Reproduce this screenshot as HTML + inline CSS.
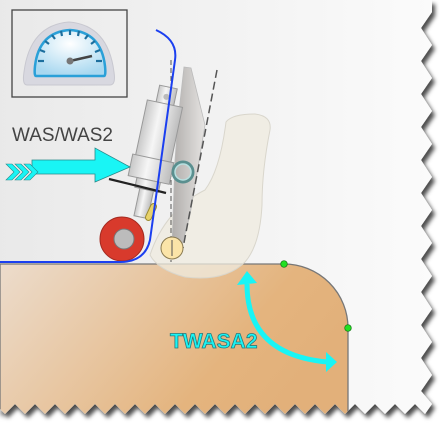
<!DOCTYPE html>
<html><head><style>html,body{margin:0;padding:0;background:#fff}svg{display:block}</style></head>
<body>
<svg id="s" width="440" height="423" viewBox="0 0 440 423" xmlns="http://www.w3.org/2000/svg">
<defs>
<linearGradient id="bg" x1="0" y1="0" x2="1" y2="0"><stop offset="0" stop-color="#e9e9e9"/><stop offset="1" stop-color="#fbfbfb"/></linearGradient>
<linearGradient id="wp" x1="0" y1="0" x2="1" y2="0.4"><stop offset="0" stop-color="#ecdccc"/><stop offset="0.75" stop-color="#e4b47e"/><stop offset="1" stop-color="#e2b07a"/></linearGradient>
<linearGradient id="cyl" x1="0" y1="0" x2="1" y2="0"><stop offset="0" stop-color="#c8c8c8"/><stop offset="0.4" stop-color="#f6f6f6"/><stop offset="1" stop-color="#bdbdbd"/></linearGradient>
<linearGradient id="fin" x1="0" y1="0" x2="1" y2="0"><stop offset="0" stop-color="#b0adab"/><stop offset="1" stop-color="#e6e4e2"/></linearGradient>
<radialGradient id="dial" cx="0.5" cy="0.3" r="0.7"><stop offset="0" stop-color="#ffffff"/><stop offset="1" stop-color="#a8d8f0"/></radialGradient>
<filter id="sh" x="-5%" y="-5%" width="115%" height="115%"><feDropShadow dx="3" dy="4" stdDeviation="2" flood-color="#000" flood-opacity="0.7"/></filter>
<clipPath id="pc"><polygon id="pcp"/></clipPath>
</defs>
<polygon id="pg" fill="url(#bg)" filter="url(#sh)"/>
<g clip-path="url(#pc)">
<path d="M0,264 L284,264 A64,64 0 0 1 348,328 L348,430 L0,430 Z" fill="url(#wp)" stroke="#777" stroke-width="1.3"/>
<rect x="12" y="10" width="115" height="87" fill="none" stroke="#444" stroke-width="1.3"/>
<path d="M27,85 L110,85 Q116,85 114,72 Q108,25 69,22 Q30,25 24,72 Q22,85 27,85Z" fill="#d8d8e0" stroke="#c8c8d0"/>
<path d="M36,76 L104,76 Q106,76 105,66 Q101,32 70,30 Q39,32 35,66 Q34,76 36,76Z" fill="url(#dial)" stroke="#2aa0d8" stroke-width="2.5"/>
<g stroke="#1d6f9e" stroke-width="2.2">
<line x1="38" y1="61" x2="44" y2="61"/><line x1="40" y1="50" x2="45" y2="52"/><line x1="45" y1="41" x2="49" y2="44"/><line x1="52" y1="35" x2="55" y2="39"/><line x1="61" y1="31" x2="62" y2="36"/><line x1="70" y1="30" x2="70" y2="35"/><line x1="79" y1="31" x2="78" y2="36"/><line x1="88" y1="35" x2="85" y2="39"/><line x1="95" y1="41" x2="91" y2="44"/><line x1="100" y1="50" x2="95" y2="52"/><line x1="102" y1="61" x2="96" y2="61"/>
</g>
<line x1="70" y1="61" x2="92" y2="56" stroke="#444" stroke-width="2.5"/><circle cx="70" cy="61" r="3.5" fill="#777"/>
<path d="M226,122 Q232,114 255,114 Q272,116 270,130 Q262,170 262,205 Q260,245 245,262 Q225,282 185,277 Q158,270 150,255 Q165,210 205,190 Q220,170 226,122Z" fill="#efebdf" fill-opacity="0.75" stroke="#d9d6cc"/>
<path d="M184,67 L191,68 L205,125 L190,215 L182,245 L172,245 L175,160 L178,120Z" fill="url(#fin)" stroke="#bbb" stroke-width="0.8"/>
<line x1="171" y1="60" x2="171" y2="262" stroke="#555" stroke-dasharray="5,3"/>
<line x1="217" y1="70" x2="183" y2="248" stroke="#555" stroke-width="1.5" stroke-dasharray="8,4"/>
<g transform="rotate(12 152 150)">
<rect x="146" y="85" width="18" height="20" fill="url(#cyl)" stroke="#999"/>
<rect x="137" y="102" width="36" height="58" fill="url(#cyl)" stroke="#999"/>
<rect x="134" y="158" width="42" height="22" fill="url(#cyl)" stroke="#999"/>
<rect x="143" y="180" width="24" height="10" fill="url(#cyl)" stroke="#999"/>
<rect x="148" y="190" width="14" height="28" fill="url(#cyl)" stroke="#999"/>
<circle cx="155" cy="95" r="3" fill="#bbb"/>
</g>
<line x1="109" y1="179" x2="166" y2="193" stroke="#222" stroke-width="2.2"/>
<circle cx="122" cy="239" r="22" fill="#d83a2c" stroke="#a52a20"/>
<circle cx="124" cy="239" r="10" fill="#bcbcbc" stroke="#777"/>
<rect x="148" y="203" width="6" height="18" rx="3" transform="rotate(25 151 212)" fill="#e8d26a" stroke="#9a8a30"/>
<circle cx="183" cy="172" r="10" fill="none" stroke="#5a8f8f" stroke-width="3"/>
<circle cx="183" cy="172" r="8" fill="none" stroke="#b8e0e0" stroke-width="1.5"/>
<circle cx="172" cy="248" r="11" fill="#fbe4a8" stroke="#8a7a50"/>
<line x1="172" y1="240" x2="172" y2="256" stroke="#555"/>
<path d="M0,262 L120,262 Q145,262 150,240 L175,60 Q178,40 156,30" fill="none" stroke="#1b3ff0" stroke-width="2"/>
<text x="12" y="141" font-family="Liberation Sans, sans-serif" font-size="19" fill="#444">WAS/WAS2</text>
<polygon points="32,160 95,160 95,148 130,167 95,182 95,174 32,174" fill="#19f5f5" stroke="#2a8a8a" stroke-width="0.8"/>
<polygon points="6,164 12,164 20,172 12,180 6,180 14,172" fill="#19f5f5" stroke="#2a8a8a" stroke-width="0.6"/>
<polygon points="15,164 21,164 29,172 21,180 15,180 23,172" fill="#19f5f5" stroke="#2a8a8a" stroke-width="0.6"/>
<polygon points="24,164 30,164 38,172 30,180 24,180 32,172" fill="#19f5f5" stroke="#2a8a8a" stroke-width="0.6"/>
<circle cx="284" cy="264" r="3.3" fill="#22e022" stroke="#117711" stroke-width="0.7"/>
<circle cx="348" cy="328" r="3.3" fill="#22e022" stroke="#117711" stroke-width="0.7"/>
<path d="M247,284 Q247,355 328,362" fill="none" stroke="#19f5f5" stroke-width="5"/>
<polygon points="237,285 247,271 257,283" fill="#19f5f5"/>
<polygon points="326,352 337,362 326,372" fill="#19f5f5"/>
<text x="170" y="348" font-family="Liberation Sans, sans-serif" font-size="21" font-weight="bold" fill="#19f5f5" stroke="#2a7a7a" stroke-width="0.8">TWASA2</text>
</g>
</svg>
<script>
(function(){
 var p=[[0,0],[432,0]];
 for(var y=12;y<400;y+=33){p.push([432,y]);p.push([421,y+16]);}
 p.push([432,404]);
 for(var x=425;x>=0;x-=20){p.push([x,414]);p.push([x-10,404]);}
 p.push([0,414]);
 var s=p.map(function(a){return a.join(',')}).join(' ');
 document.getElementById('pg').setAttribute('points',s);
 document.getElementById('pcp').setAttribute('points',s);
})();
</script>
</body></html>
